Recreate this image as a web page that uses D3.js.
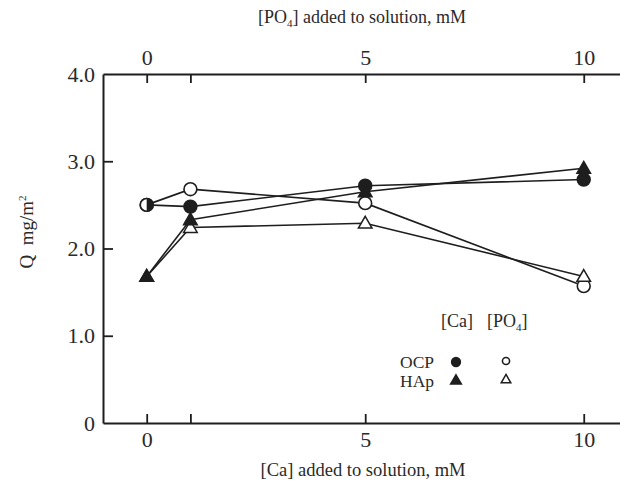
<!DOCTYPE html>
<html><head><meta charset="utf-8">
<script src="https://cdn.jsdelivr.net/npm/d3@7"></script>
<style>body{margin:0;background:#fff}svg{display:block}text{font-family:"Liberation Serif","DejaVu Serif",serif;fill:#2a2a2a}</style>
</head><body><svg id="c" width="620" height="485"></svg>
<script>
const xValues = [0, 1, 5, 10];
const ocpCa  = [2.50, 2.48, 2.72, 2.79];
const ocpPO4 = [2.50, 2.68, 2.52, 1.57];
const hapCa  = [1.68, 2.33, 2.65, 2.92];
const hapPO4 = [1.68, 2.24, 2.29, 1.68];
const xTicks = [0, 1, 5, 10];
const xTickLabels = ["0", "", "5", "10"];
const yTicks = [0, 1, 2, 3, 4];
const yTickLabels = ["0", "1.0", "2.0", "3.0", "4.0"];

const svg = d3.select("#c");
const L = 103, R = 620, T = 74, B = 423;
const x = d3.scaleLinear().domain([-1, 10.83]).range([L, R]);
const y = d3.scaleLinear().domain([0, 4]).range([B, T]);
const ink = "#1e1e1e";

// axes
const gb = svg.append("g").attr("transform", `translate(0,${B})`)
  .call(d3.axisBottom(x).tickValues(xTicks).tickSize(-9).tickSizeOuter(0).tickPadding(8)
    .tickFormat((d, i) => xTickLabels[i]));
const gt = svg.append("g").attr("transform", `translate(0,${T})`)
  .call(d3.axisTop(x).tickValues(xTicks).tickSize(-9).tickSizeOuter(0).tickPadding(9)
    .tickFormat((d, i) => xTickLabels[i]));
const gl = svg.append("g").attr("transform", `translate(${L},0)`)
  .call(d3.axisLeft(y).tickValues(yTicks).tickSize(-10).tickSizeOuter(0).tickPadding(8)
    .tickFormat((d, i) => yTickLabels[i]));
[gb, gt, gl].forEach(g => {
  g.select(".domain").attr("stroke", ink).attr("stroke-width", 2);
  g.selectAll(".tick line").attr("stroke", ink).attr("stroke-width", 1.8);
  g.selectAll(".tick text").attr("font-size", 22).attr("fill", "#2a2a2a")
    .style("font-family", "'Liberation Serif', serif");
});
gl.selectAll(".tick").filter(d => d === 0 || d === 4).select("line").remove();

// titles
const topT = svg.append("text").attr("x", 362).attr("y", 23).attr("text-anchor", "middle").attr("font-size", 18);
topT.append("tspan").text("[PO");
topT.append("tspan").attr("font-size", 11).attr("dy", 4).text("4");
topT.append("tspan").attr("dy", -4).text("] added to solution, mM");
svg.append("text").attr("x", 363).attr("y", 476).attr("text-anchor", "middle").attr("font-size", 18.5)
  .text("[Ca] added to solution, mM");
const yt = svg.append("text").attr("transform", "translate(33,232) rotate(-90)").attr("text-anchor", "middle")
  .attr("font-size", 19).style("white-space", "pre");
yt.append("tspan").text("Q  mg/m");
yt.append("tspan").attr("font-size", 11).attr("dy", -7).text("2");

// series
const series = [
  {vals: ocpPO4, shape: "circle", filled: false},
  {vals: hapPO4, shape: "triangle", filled: false},
  {vals: ocpCa, shape: "circle", filled: true},
  {vals: hapCa, shape: "triangle", filled: true}
];
const line = d3.line().x(d => x(d[0])).y(d => y(d[1]));
series.forEach(s => {
  svg.append("path").datum(xValues.map((xv, i) => [xv, s.vals[i]]))
    .attr("d", line).attr("fill", "none").attr("stroke", ink).attr("stroke-width", 1.6);
});
const triSym = d3.symbol().type(d3.symbolTriangle);
function marker(g, shape, filled, cx, cy, size, half) {
  if (shape === "circle") {
    const r = Math.sqrt(size / Math.PI);
    if (half) {
      g.append("circle").attr("cx", cx).attr("cy", cy).attr("r", r).attr("fill", "#fff").attr("stroke", ink).attr("stroke-width", 1.6);
      g.append("path").attr("transform", `translate(${cx},${cy})`)
        .attr("d", d3.arc()({innerRadius: 0, outerRadius: r, startAngle: 0, endAngle: Math.PI})).attr("fill", ink);
    } else {
      g.append("circle").attr("cx", cx).attr("cy", cy).attr("r", r)
        .attr("fill", filled ? ink : "#fff").attr("stroke", ink).attr("stroke-width", 1.6);
    }
  } else {
    g.append("path").attr("transform", `translate(${cx},${cy + 1})`).attr("d", triSym.size(size)())
      .attr("fill", filled ? ink : "#fff").attr("stroke", ink).attr("stroke-width", 1.5);
  }
}
const mg = svg.append("g");
series.forEach(s => {
  xValues.forEach((xv, i) => {
    const other = series.find(o => o !== s && o.shape === s.shape && !o.filled && s.filled);
    const half = s.shape === "circle" && other && other.vals[i] === s.vals[i];
    marker(mg, s.shape, s.filled, x(xv), y(s.vals[i]), s.shape === "circle" ? 130 : 80, half);
  });
});

// legend
const lg = svg.append("g");
lg.append("text").attr("x", 441).attr("y", 327).attr("font-size", 18).text("[Ca]");
const lp = lg.append("text").attr("x", 487).attr("y", 327).attr("font-size", 18);
lp.append("tspan").text("[PO");
lp.append("tspan").attr("font-size", 11).attr("dy", 4).text("4");
lp.append("tspan").attr("dy", -4).text("]");
lg.append("text").attr("x", 400).attr("y", 368).attr("font-size", 17.5).text("OCP");
lg.append("text").attr("x", 400).attr("y", 387).attr("font-size", 17.5).text("HAp");
marker(lg, "circle", true, 456, 362, 60, false);
marker(lg, "circle", false, 506, 361, 40, false);
marker(lg, "triangle", true, 456, 380, 50, false);
marker(lg, "triangle", false, 506, 379, 40, false);
</script></body></html>
